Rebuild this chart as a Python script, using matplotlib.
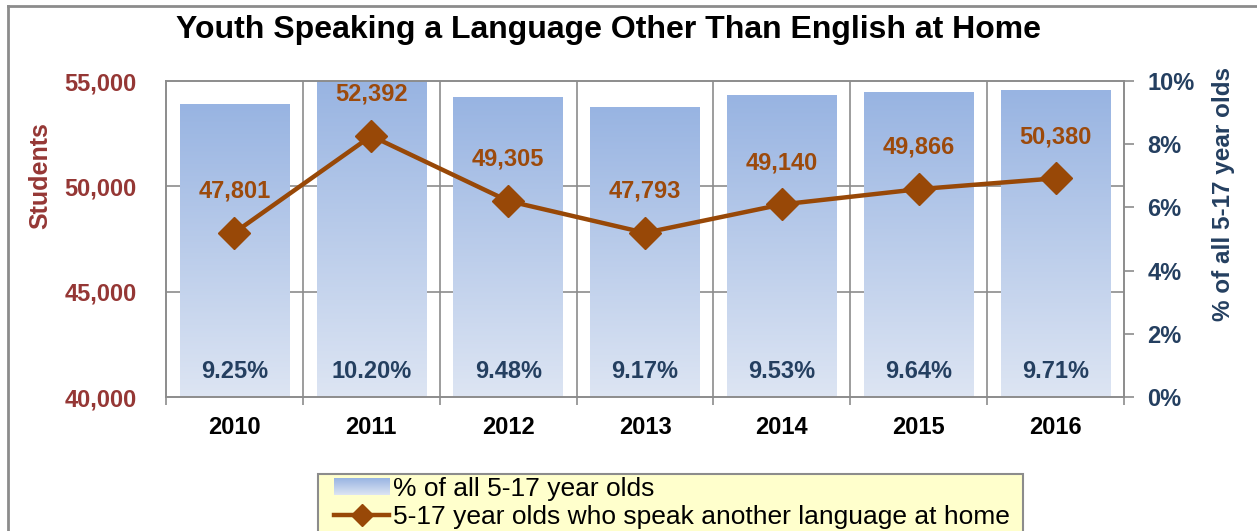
import numpy as np
import matplotlib
matplotlib.use("Agg")
import matplotlib.pyplot as plt
import matplotlib.transforms as mtransforms
from matplotlib.lines import Line2D
from matplotlib.patches import Patch, Rectangle
from matplotlib.legend_handler import HandlerPatch

# ---- data ----
years = ["2010", "2011", "2012", "2013", "2014", "2015", "2016"]
students = [47801, 52392, 49305, 47793, 49140, 49866, 50380]
pct_share = [9.25, 10.20, 9.48, 9.17, 9.53, 9.64, 9.71]
left_ticks = [40000, 45000, 50000, 55000]
right_ticks = [0, 2, 4, 6, 8, 10]

title = "Youth Speaking a Language Other Than English at Home"
left_label = "Students"
right_label = "% of all 5-17 year olds"
bar_legend = "% of all 5-17 year olds"
line_legend = "5-17 year olds who speak another language at home"

# ---- styles ----
plt.rcParams['font.family'] = ['Liberation Sans', 'DejaVu Sans']
RED = "#953735"
NAVY = "#243F60"
BROWN = "#984807"
LABEL_BROWN = "#9C4A0C"
GRID = "#8C8C8C"
TOP = np.array([0x98, 0xB4, 0xE2]) / 255
BOT = np.array([0xDD, 0xE5, 0xF3]) / 255
FS = 17

fig = plt.figure(figsize=(12.57, 5.31), dpi=100)
ax = fig.add_axes([166 / 1257, 1 - 397 / 531, (1124 - 166) / 1257, (397 - 81) / 531])
ax2 = ax.twinx()
ax.set_zorder(2)
ax2.set_zorder(1)
ax.patch.set_visible(False)

x = np.arange(len(years))

ax2.set_ylim(0, 10)
ax.set_ylim(left_ticks[0], left_ticks[-1])
ax.set_xlim(-0.5, len(years) - 0.5)

# gridlines behind bars (on bar axes)
blend = mtransforms.blended_transform_factory(ax2.transAxes, ax.transData)
for v in left_ticks[1:-1]:
    ax2.plot([0, 1], [v, v], transform=blend, color=GRID, lw=1.2, zorder=0.5)
for b in np.arange(len(years) - 1) + 0.5:
    ax2.axvline(b, color=GRID, lw=1.2, zorder=0.5)

# ---- bars with gradient (right axis) ----
bars = ax2.bar(x, pct_share, width=0.8, color="none", edgecolor="none", zorder=1)
grad = np.linspace(0, 1, 256)[:, None, None]
img_arr = TOP * (1 - grad) + BOT * grad  # row 0 = top
ytop_lim = ax2.get_ylim()[1]
for rect in bars:
    x0, y0 = rect.get_x(), rect.get_y()
    w, h = rect.get_width(), rect.get_height()
    top = min(y0 + h, ytop_lim)
    ax2.imshow(img_arr, extent=(x0, x0 + w, y0, top), aspect="auto",
               origin="upper", zorder=1, interpolation="bilinear")
ax2.set_xlim(-0.5, len(years) - 0.5)
ax2.set_ylim(0, 10)

# percent labels
pblend = mtransforms.blended_transform_factory(ax2.transData, ax2.transAxes)
for xi, p in zip(x, pct_share):
    ax2.text(xi, 0.082, f"{p:.2f}%", transform=pblend, ha="center", va="center",
             fontsize=FS, fontweight="bold", color=NAVY, zorder=3)

# ---- line (left axis) ----
ax.plot(x, students, color=BROWN, lw=3.2, marker="D", markersize=16,
        markerfacecolor=BROWN, markeredgecolor=BROWN, zorder=3, clip_on=False)
for xi, s in zip(x, students):
    ax.annotate(f"{s:,}", (xi, s), xytext=(0, 30), textcoords="offset points",
                ha="center", va="center", fontsize=FS, fontweight="bold",
                color=LABEL_BROWN)

# ---- axes styling ----
ax.set_yticks(left_ticks)
ax.set_yticklabels([f"{t:,}" for t in left_ticks])
ax.tick_params(axis="y", length=0, pad=21, labelsize=FS, labelcolor=RED)
for lab in ax.get_yticklabels():
    lab.set_fontweight("bold")
ax.set_ylabel(left_label, fontsize=18, fontweight="bold", color=RED)
ax.yaxis.set_label_coords(-0.119, 0.70)

ax.set_xticks(x)
ax.set_xticklabels(years)
ax.set_xticks(np.arange(len(years) + 1) - 0.5, minor=True)
ax.tick_params(axis="x", which="major", length=0, pad=14, labelsize=FS)
ax.tick_params(axis="x", which="minor", length=6, width=1.2, color=GRID, direction="out")
for lab in ax.get_xticklabels():
    lab.set_fontweight("bold")

ax2.set_yticks(right_ticks)
ax2.set_yticklabels([f"{t}%" for t in right_ticks])
ax2.tick_params(axis="y", length=7, width=1.2, color=GRID, direction="out",
                pad=10, labelsize=FS, labelcolor=NAVY)
for lab in ax2.get_yticklabels():
    lab.set_fontweight("bold")
ax2.set_ylabel(right_label, fontsize=17.5, fontweight="bold", color=NAVY)
ax2.yaxis.set_label_coords(1.0915, 0.642)

for a in (ax, ax2):
    for sp in a.spines.values():
        sp.set_color(GRID)
        sp.set_linewidth(1.2)

fig.suptitle(title, x=609 / 1257, y=1 - 30 / 531, va="center", fontsize=23,
             fontweight="bold")

# ---- figure border (top & left only visible) ----
fig.add_artist(Line2D([8 / 1257, 8 / 1257], [0, 1 - 6 / 531], transform=fig.transFigure,
                      color="#8C8C8C", lw=2))
fig.add_artist(Line2D([8 / 1257, 1], [1 - 6 / 531, 1 - 6 / 531], transform=fig.transFigure,
                      color="#8C8C8C", lw=2))


# ---- legend ----
class GradHandler(HandlerPatch):
    def create_artists(self, legend, orig_handle, xdescent, ydescent, width, height,
                       fontsize, trans):
        from matplotlib.image import BboxImage
        from matplotlib.transforms import Bbox, TransformedBbox
        bb = Bbox.from_bounds(-xdescent, -ydescent + height * 0.05, width, height * 0.9)
        tbb = TransformedBbox(bb, trans)
        im = BboxImage(tbb, interpolation="bilinear")
        im.set_data(img_arr)
        return [im]


bar_handle = Patch(facecolor=TOP)
line_handle = Line2D([], [], color=BROWN, lw=3.2, marker="D", markersize=11,
                     markerfacecolor=BROWN)
leg = fig.legend([bar_handle, line_handle], [bar_legend, line_legend],
                 loc="upper left", bbox_to_anchor=(334 / 1257, 1 - 477 / 531),
                 frameon=False, fontsize=19, handlelength=2.1,
                 handletextpad=0.15, labelspacing=0.15, borderpad=0.0,
                 borderaxespad=0, handler_map={Patch: GradHandler()})
leg.set_zorder(5)
fig.canvas.draw()
ext = leg.get_window_extent().transformed(fig.transFigure.inverted())
lx0 = ext.x0 - 16 / 1257
lx1 = ext.x1 + 13 / 1257
ly1 = 1 - 474 / 531
fig.add_artist(Rectangle((lx0, -0.05), lx1 - lx0, ly1 + 0.05, transform=fig.transFigure,
                         facecolor="#FFFFCC", edgecolor="#8C8C8C", lw=1.5, zorder=4))

fig.savefig("out.png", dpi=100)
